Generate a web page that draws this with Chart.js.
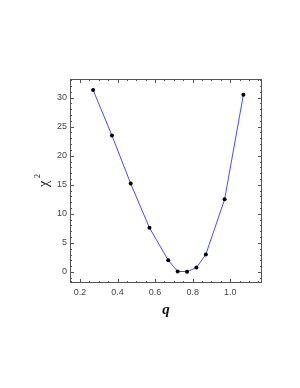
<!DOCTYPE html>
<html>
<head>
<meta charset="utf-8">
<script src="https://cdn.jsdelivr.net/npm/chart.js@4"></script>
<style>
  html, body { margin: 0; padding: 0; background: #fff; }
  #wrap { width: 300px; height: 388px; }
</style>
</head>
<body>
<div id="wrap"><canvas id="chiChart" width="300" height="388"></canvas></div>
<script>
// data
const qValues = [0.27, 0.37, 0.47, 0.57, 0.67, 0.72, 0.77, 0.82, 0.87, 0.97, 1.07];
const chiValues = [31.3, 23.5, 15.2, 7.6, 2.0, 0.1, 0.05, 0.75, 3.0, 12.5, 30.5];
const xTicks = [0.2, 0.4, 0.6, 0.8, 1.0];
const yTicks = [0, 5, 10, 15, 20, 25, 30];

const frameColor = '#555';

// inward ticks on all four sides, like a framed plot
const frameTicks = {
  id: 'frameTicks',
  afterDraw(chart) {
    const { ctx, chartArea: a, scales: { x, y } } = chart;
    ctx.save();
    ctx.strokeStyle = frameColor;
    ctx.lineWidth = 1;
    ctx.strokeRect(a.left + 0.5, a.top + 0.5, a.right - a.left - 1, a.bottom - a.top - 1);
    ctx.beginPath();
    for (let v = 0.15; v <= 1.17; v += 0.05) {
      const px = Math.round(x.getPixelForValue(v)) + 0.5;
      const major = Math.abs(v * 5 - Math.round(v * 5)) < 1e-6;
      const len = major ? 4 : 2;
      ctx.moveTo(px, a.bottom); ctx.lineTo(px, a.bottom - len);
      ctx.moveTo(px, a.top); ctx.lineTo(px, a.top + len);
    }
    for (let v = -1; v <= 33; v += 1) {
      const py = Math.round(y.getPixelForValue(v)) + 0.5;
      const len = v % 5 === 0 ? 4 : 2;
      ctx.moveTo(a.left, py); ctx.lineTo(a.left + len, py);
      ctx.moveTo(a.right, py); ctx.lineTo(a.right - len, py);
    }
    ctx.stroke();

    // axis titles
    ctx.fillStyle = '#111';
    ctx.font = 'italic bold 15px "Liberation Serif", "DejaVu Serif", serif';
    ctx.textAlign = 'center';
    ctx.textBaseline = 'middle';
    ctx.fillText('q', (a.left + a.right) / 2, 310);

    ctx.translate(44, 184);
    ctx.rotate(-Math.PI / 2);
    ctx.font = '14px "Liberation Serif", "DejaVu Serif", serif';
    ctx.fillText('χ', 0, 0);
    ctx.font = '8px "Liberation Serif", "DejaVu Serif", serif';
    ctx.fillText('2', 8, -6);
    ctx.restore();
  }
};

new Chart(document.getElementById('chiChart').getContext('2d'), {
  type: 'line',
  data: {
    datasets: [{
      data: qValues.map((q, i) => ({ x: q, y: chiValues[i] })),
      borderColor: '#4a4aff',
      borderWidth: 1,
      pointRadius: 2,
      pointBackgroundColor: '#000',
      pointBorderColor: '#000',
      pointBorderWidth: 0,
      tension: 0
    }]
  },
  options: {
    responsive: false,
    animation: false,
    layout: { padding: { left: 0, right: 38, top: 79, bottom: 85 } },
    plugins: { legend: { display: false }, tooltip: { enabled: false } },
    scales: {
      x: {
        type: 'linear',
        min: 0.147,
        max: 1.169,
        afterBuildTicks: s => { s.ticks = xTicks.map(v => ({ value: v })); },
        afterFit: s => { s.height = 20; },
        grid: { display: false, drawTicks: false },
        border: { display: false },
        ticks: {
          padding: 4,
          color: '#444',
          font: { family: '"Liberation Sans", Arial, sans-serif', size: 9 },
          callback: v => v.toFixed(1)
        }
      },
      y: {
        type: 'linear',
        min: -1.9,
        max: 33.2,
        afterBuildTicks: s => { s.ticks = yTicks.map(v => ({ value: v })); },
        afterFit: s => { s.width = 70; },
        grid: { display: false, drawTicks: false },
        border: { display: false },
        ticks: {
          padding: 3,
          color: '#444',
          font: { family: '"Liberation Sans", Arial, sans-serif', size: 9 }
        }
      }
    }
  },
  plugins: [frameTicks]
});
</script>
</body>
</html>
